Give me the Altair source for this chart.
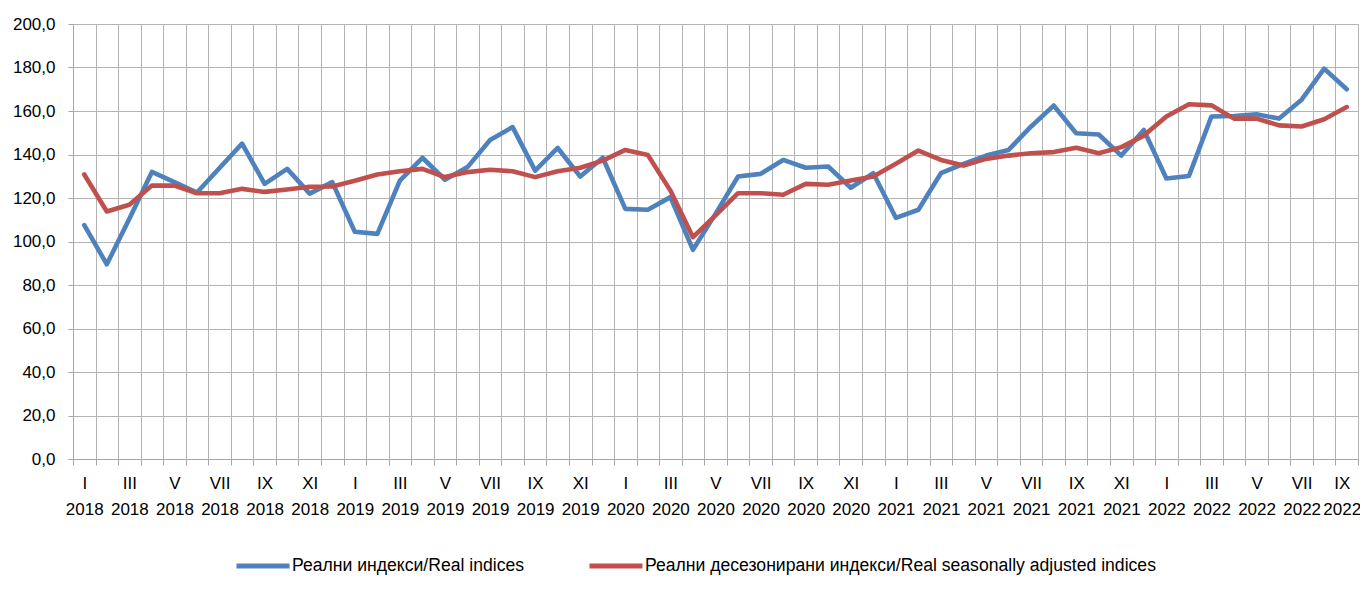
import json
import altair as alt
import pandas as pd

# ---- data ----
months_roman = ["I", "II", "III", "IV", "V", "VI", "VII", "VIII", "IX", "X", "XI", "XII"]
start_year = 2018

real_indices = [107.5, 89.5, 110.5, 132.0, 127.3, 122.5, 133.8, 145.0, 126.5, 133.4, 122.0, 127.3,
                104.5, 103.5, 128.0, 138.5, 128.4, 134.2, 146.7, 152.6, 132.6, 143.0, 129.9, 138.5,
                115.0, 114.6, 120.4, 96.2, 112.7, 129.9, 131.1, 137.5, 133.9, 134.5, 124.7, 131.4,
                110.9, 114.6, 131.4, 135.7, 139.5, 142.1, 152.9, 162.5, 149.8, 149.2, 139.5, 151.3,
                129.0, 130.1, 157.5, 157.7, 158.5, 156.5, 165.2, 179.5, 170.0]

sa_indices = [130.8, 113.8, 116.9, 125.7, 125.7, 122.2, 122.2, 124.2, 122.8, 123.9, 125.2, 125.3,
              127.9, 130.8, 132.3, 133.4, 129.6, 131.9, 133.0, 132.3, 129.6, 132.3, 133.9, 137.2,
              142.1, 139.8, 123.4, 102.0, 112.0, 122.2, 122.2, 121.5, 126.5, 126.1, 128.0, 129.9,
              135.7, 141.8, 137.5, 134.9, 138.0, 139.5, 140.6, 141.1, 143.1, 140.6, 143.4, 148.7,
              157.5, 163.1, 162.6, 156.5, 156.5, 153.4, 152.9, 156.2, 161.8]

series_names = ["Реални индекси/Real indices",
                "Реални десезонирани индекси/Real seasonally adjusted indices"]
series_colors = ["#4F81BD", "#C0504D"]

y_ticks = [0, 20, 40, 60, 80, 100, 120, 140, 160, 180, 200]

n = len(real_indices)
tick_labels = [f"{months_roman[i % 12]}|{start_year + i // 12}" for i in range(n)]

rows = []
for i, v in enumerate(real_indices):
    rows.append({"idx": i, "value": v, "series": series_names[0]})
for i, v in enumerate(sa_indices):
    rows.append({"idx": i, "value": v, "series": series_names[1]})
df = pd.DataFrame(rows)

# ---- axes ----
x_values = [k / 2 for k in range(-1, 2 * n)]  # boundaries and centres
lbl_js = json.dumps(tick_labels, ensure_ascii=False)
x_label_expr = f"(datum.value % 2 == 0) ? split({lbl_js}[datum.value], '|') : ''"

GRID = "#b4b4b4"
FONT = "Liberation Sans"

x_axis = alt.Axis(
    values=x_values,
    title=None,
    grid=True,
    gridColor=GRID,
    gridOpacity={"condition": {"test": "datum.value % 1 == 0", "value": 0}, "value": 1},
    tickOpacity={"condition": {"test": "datum.value % 1 == 0", "value": 0}, "value": 1},
    tickColor="#a6a6a6",
    tickSize=6,
    domainColor="#a6a6a6",
    labelExpr=x_label_expr,
    labelOverlap=False,
    labelFlush=False,
    labelFont=FONT,
    labelFontSize=17,
    labelColor="#000000",
    labelLineHeight=26,
    labelPadding=10,
    labelBaseline="top",
    labelOffset={"condition": {"test": f"datum.value == {n - 1}", "value": -5}, "value": 0},
)

y_axis = alt.Axis(
    values=y_ticks,
    title=None,
    grid=True,
    gridColor=GRID,
    tickColor="#a6a6a6",
    tickSize=5,
    domainColor="#a6a6a6",
    labelExpr="replace(format(datum.value, '.1f'), '.', ',')",
    labelFont=FONT,
    labelFontSize=17,
    labelColor="#000000",
    labelPadding=13,
)

chart = alt.Chart(df).mark_line(
    strokeWidth=4.6, strokeJoin="round", strokeCap="round"
).encode(
    x=alt.X("idx:Q", axis=x_axis,
            scale=alt.Scale(domain=[-0.5, n - 0.5], nice=False, zero=False)),
    y=alt.Y("value:Q", axis=y_axis,
            scale=alt.Scale(domain=[0, 200], nice=False)),
    color=alt.Color(
        "series:N",
        scale=alt.Scale(domain=series_names, range=series_colors),
        legend=alt.Legend(
            title=None,
            orient="none",
            direction="horizontal",
            legendX=161,
            legendY=513,
            symbolType="stroke",
            symbolSize=2809,
            symbolStrokeWidth=5,
            labelFont=FONT,
            labelFontSize=17.6,
            labelColor="#000000",
            labelLimit=0,
            labelOffset=0,
            columnPadding=54,
            padding=0,
        ),
    ),
    order=alt.Order("idx:Q"),
).properties(
    width=1285,
    height=435,
    autosize=alt.AutoSizeParams(type="none"),
    padding={"left": 65, "top": 16, "right": 2, "bottom": 116},
).configure_view(
    stroke=None
)

chart.save("out.html", embed_options={"renderer": "svg", "actions": False})
